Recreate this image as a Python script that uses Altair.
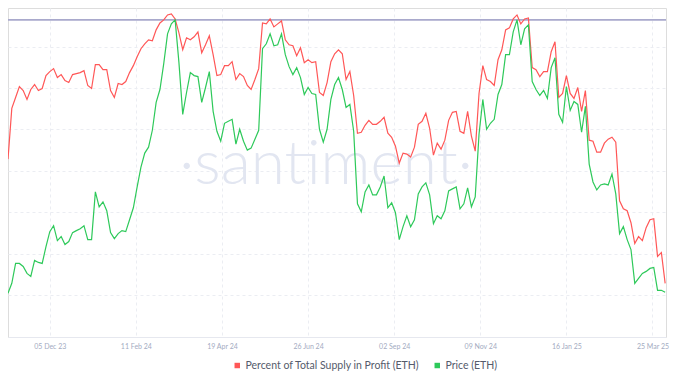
import altair as alt
import pandas as pd

# ---------------- data ----------------
start_date = "2023-11-02"
step = "3D"

supply_in_profit = [
    68.0, 78.2, 80.4, 82.6, 81.8, 80.0, 82.0, 83.0, 81.8, 82.2,
    84.8, 85.6, 86.2, 84.4, 85.0, 83.8, 83.4, 85.0, 85.2, 85.4,
    85.8, 82.8, 82.2, 87.0, 87.0, 86.0, 86.0, 81.8, 80.4, 83.2,
    83.0, 83.6, 85.4, 86.8, 88.6, 90.2, 91.2, 92.0, 91.8, 94.0,
    95.4, 96.0, 97.0, 97.2, 96.2, 93.4, 90.0, 92.4, 92.0, 92.6,
    93.6, 89.4, 91.0, 92.8, 89.0, 84.8, 85.0, 86.8, 86.8, 87.6,
    84.0, 85.2, 84.6, 82.8, 82.0, 84.0, 86.2, 95.4, 95.2, 96.2,
    94.6, 95.2, 95.8, 92.0, 91.0, 90.8, 88.8, 90.4, 87.4, 88.0,
    87.4, 87.6, 81.4, 80.8, 83.4, 87.6, 89.2, 90.0, 89.2, 84.0,
    85.6, 80.8, 73.2, 73.4, 74.8, 75.8, 75.0, 75.0, 75.6, 76.4,
    73.2, 72.4, 70.6, 67.2, 69.2, 69.0, 68.4, 70.4, 75.0, 75.6,
    77.2, 74.2, 68.8, 71.2, 70.0, 71.8, 75.8, 77.4, 77.6, 73.6,
    73.2, 77.6, 72.6, 69.6, 81.2, 86.8, 84.0, 83.6, 82.8, 88.0,
    90.0, 94.0, 94.4, 96.2, 97.0, 95.2, 96.2, 96.4, 86.4, 86.0,
    84.6, 85.6, 85.6, 89.6, 91.6, 80.4, 81.2, 84.8, 81.2, 80.2,
    82.4, 77.6, 81.8, 71.8, 71.6, 69.4, 69.4, 71.2, 72.0, 72.4,
    71.4, 59.6, 58.0, 57.6, 55.2, 51.0, 52.4, 51.6, 54.2, 55.8,
    56.0, 48.4, 49.2, 43.0,
]

price_eth = [
    1840, 1920, 2080, 2080, 2056, 2000, 1976, 2104, 2088, 2080,
    2216, 2336, 2384, 2264, 2296, 2232, 2256, 2328, 2344, 2360,
    2384, 2272, 2272, 2656, 2536, 2576, 2504, 2328, 2280, 2320,
    2344, 2336, 2432, 2528, 2696, 2856, 2968, 3016, 3152, 3376,
    3480, 3688, 3928, 4008, 4040, 3696, 3280, 3456, 3616, 3592,
    3584, 3376, 3496, 3624, 3304, 3144, 3064, 3208, 3224, 3240,
    3040, 3160, 3064, 2992, 3008, 3080, 3152, 3808, 3848, 3928,
    3832, 3840, 3928, 3760, 3664, 3600, 3656, 3576, 3440, 3496,
    3448, 3440, 3160, 3056, 3160, 3400, 3520, 3576, 3480, 3336,
    3360, 3144, 2560, 2496, 2656, 2712, 2632, 2632, 2696, 2784,
    2528, 2568, 2488, 2272, 2376, 2464, 2376, 2432, 2640, 2696,
    2728, 2632, 2400, 2464, 2440, 2504, 2664, 2680, 2696, 2520,
    2560, 2688, 2536, 2616, 3120, 3400, 3160, 3208, 3240, 3440,
    3520, 3760, 3760, 3944, 4040, 3840, 3968, 4000, 3544, 3480,
    3432, 3472, 3408, 3656, 3736, 3280, 3216, 3504, 3312, 3384,
    3360, 3136, 3344, 2880, 2736, 2672, 2712, 2720, 2712, 2800,
    2640, 2320, 2376, 2272, 2192, 1920, 1960, 2000, 2016, 2040,
    2048, 1864, 1864, 1848,
]

series_names = ["Percent of Total Supply in Profit (ETH)", "Price (ETH)"]
series_colors = ["#ff5757", "#2ec95a"]
tick_dates = [(2023, 12, 5), (2024, 2, 11), (2024, 4, 19), (2024, 6, 26),
              (2024, 9, 2), (2024, 11, 9), (2025, 1, 16), (2025, 3, 25)]
threshold_pct = [96.0]
grid_prices = [3824, 3496, 3160, 2824, 2496, 2160, 1824]
pct_domain = [32.2, 98.4]
price_domain = [1488, 4136]
watermark = ["\u00b7santiment\u00b7"]

# ---------------- tables ----------------
dates = pd.date_range(start_date, periods=len(price_eth), freq=step)
df_pct = pd.DataFrame({"date": dates, "value": supply_in_profit, "series": series_names[0]})
df_price = pd.DataFrame({"date": dates, "value": price_eth, "series": series_names[1]})
df_rule = pd.DataFrame({"value": threshold_pct})
df_wm = pd.DataFrame({"t": watermark})

W, H = 658, 329
FONT = "Lato"

x_scale = alt.Scale(domain=[alt.DateTime(year=2023, month=11, date=2),
                            alt.DateTime(year=2025, month=4, date=4, hours=16)])
x_axis = alt.Axis(
    values=[alt.DateTime(year=y, month=m, date=d) for (y, m, d) in tick_dates],
    format="%d %b %y", title=None, grid=True, gridDash=[3, 3], gridColor="#ebedf2",
    ticks=False, domain=True, domainColor="#e6e8ef", labelColor="#a3abbf",
    labelFontSize=7, labelFont=FONT, labelPadding=5,
)
color = alt.Color(
    "series:N",
    scale=alt.Scale(domain=series_names, range=series_colors),
    legend=alt.Legend(
        orient="none", legendX=224, legendY=352, direction="horizontal", title=None,
        symbolType="square", symbolSize=6, symbolStrokeWidth=3,
        labelFontSize=10.5, labelFont=FONT, labelColor="#555b6b", labelOffset=3,
        columnPadding=10, labelLimit=0,
    ),
)

wm = alt.Chart(df_wm).mark_text(
    font=FONT, fontSize=62, fontWeight=300, color="#e2e6f1", align="center", baseline="alphabetic"
).encode(text="t:N", x=alt.value(318), y=alt.value(176))

pct_y = alt.Y("value:Q", scale=alt.Scale(domain=pct_domain), axis=None)
rule = alt.Chart(df_rule).mark_rule(color="#a9a9cc", strokeWidth=1.8).encode(y=pct_y)
pct_line = alt.Chart(df_pct).mark_line(strokeWidth=1.2).encode(
    x=alt.X("date:T", scale=x_scale, axis=x_axis), y=pct_y, color=color
)
pct_layer = alt.layer(wm, rule, pct_line)

price_line = alt.Chart(df_price).mark_line(strokeWidth=1.2).encode(
    x=alt.X("date:T", scale=x_scale, axis=x_axis),
    y=alt.Y("value:Q", scale=alt.Scale(domain=price_domain),
            axis=alt.Axis(values=grid_prices, grid=True, gridDash=[3, 3], gridColor="#ebedf2",
                          labels=False, ticks=False, domain=False, title=None)),
    color=color,
)

chart = alt.layer(pct_layer, price_line).resolve_scale(y="independent").properties(
    width=W, height=H,
    autosize=alt.AutoSizeParams(type="none"),
    padding={"left": 0, "top": 0, "right": 4, "bottom": 36},
).configure_view(stroke=None).configure(background="white")

chart.save("out.html", embed_options={"renderer": "svg", "actions": False})
